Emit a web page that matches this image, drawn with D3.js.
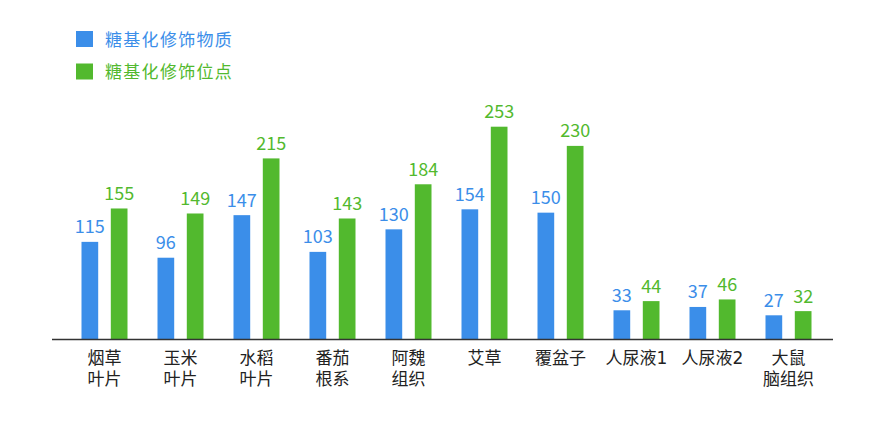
<!DOCTYPE html>
<html>
<head>
<meta charset="utf-8">
<script src="https://cdn.jsdelivr.net/npm/d3@7"></script>
<style>
  body { margin: 0; background: #fff; }
  text { font-family: "Noto Sans CJK SC", "Noto Sans", sans-serif; }
  text.cat { font-family: "DejaVu Sans", "Noto Sans CJK SC", sans-serif; }
</style>
</head>
<body>
<div id="container"></div>
<script>
// categories (two-line labels) and values
const categories = ['烟草\n叶片', '玉米\n叶片', '水稻\n叶片', '番茄\n根系', '阿魏\n组织', '艾草', '覆盆子', '人尿液1', '人尿液2', '大鼠\n脑组织'];
const seriesNames = ['糖基化修饰物质', '糖基化修饰位点'];
const proteins = [115, 96, 147, 103, 130, 154, 150, 33, 37, 27];
const sites = [155, 149, 215, 143, 184, 253, 230, 44, 46, 32];

const colors = ['#3b8ee9', '#52b92e'];

// chart size
const w = 888;
const h = 426;
const baseY = 339.5;

const rows = categories.map((c, i) => ({ cat: c, vals: [proteins[i], sites[i]] }));

const x0 = d3.scaleBand()
    .domain(categories)
    .range([66.5, 826.5]);

const x1 = d3.scaleBand()
    .domain(seriesNames)
    .range([15, 61])
    .paddingInner(0.43);

const yScale = d3.scaleLinear()
    .domain([-2, 253])
    .range([baseY, 126.7]);

const svg = d3.select('#container')
    .append('svg')
    .attr('width', w)
    .attr('height', h);

// legend
const legend = svg.append('g');
seriesNames.forEach((name, i) => {
  const g = legend.append('g').attr('transform', `translate(76, ${31 + i * 32.5})`);
  g.append('rect').attr('width', 17).attr('height', 16).attr('fill', colors[i]);
  g.append('text')
    .attr('x', 29)
    .attr('y', 8.5)
    .attr('dy', '0.36em')
    .attr('font-size', 17)
    .attr('letter-spacing', 1.3)
    .attr('fill', colors[i])
    .text(name);
});

// bars
const groups = svg.selectAll('.group')
    .data(rows)
    .enter()
    .append('g')
    .attr('class', 'group')
    .attr('transform', (d) => `translate(${x0(d.cat)}, 0)`);

groups.selectAll('rect')
    .data((d) => d.vals.map((v, i) => ({ v, s: seriesNames[i], i })))
    .enter()
    .append('rect')
    .attr('x', (d) => x1(d.s))
    .attr('width', x1.bandwidth())
    .attr('y', (d) => yScale(d.v))
    .attr('height', (d) => baseY - yScale(d.v))
    .attr('fill', (d) => colors[d.i]);

groups.selectAll('.val')
    .data((d) => d.vals.map((v, i) => ({ v, s: seriesNames[i], i })))
    .enter()
    .append('text')
    .attr('class', 'val')
    .attr('x', (d) => x1(d.s) + x1.bandwidth() / 2)
    .attr('y', (d) => yScale(d.v) - 8.5)
    .attr('text-anchor', 'middle')
    .attr('font-size', 18)
    .attr('fill', (d) => colors[d.i])
    .text((d) => d.v);

// x axis line and labels
svg.append('line')
    .attr('x1', 52)
    .attr('x2', 833)
    .attr('y1', baseY)
    .attr('y2', baseY)
    .attr('stroke', '#333')
    .attr('stroke-width', 1.5);

// one text per label line
const catLines = [];
categories.forEach((c) => {
  c.split('\n').forEach((t, i) => catLines.push({ cat: c, t, i }));
});

svg.selectAll('.cat')
    .data(catLines)
    .enter()
    .append('text')
    .attr('class', 'cat')
    .attr('text-anchor', 'middle')
    .attr('font-size', 17)
    .attr('fill', '#222')
    .attr('x', (d) => x0(d.cat) + x0.bandwidth() / 2)
    .attr('y', (d) => 364 + d.i * 21)
    .text((d) => d.t);
</script>
</body>
</html>
